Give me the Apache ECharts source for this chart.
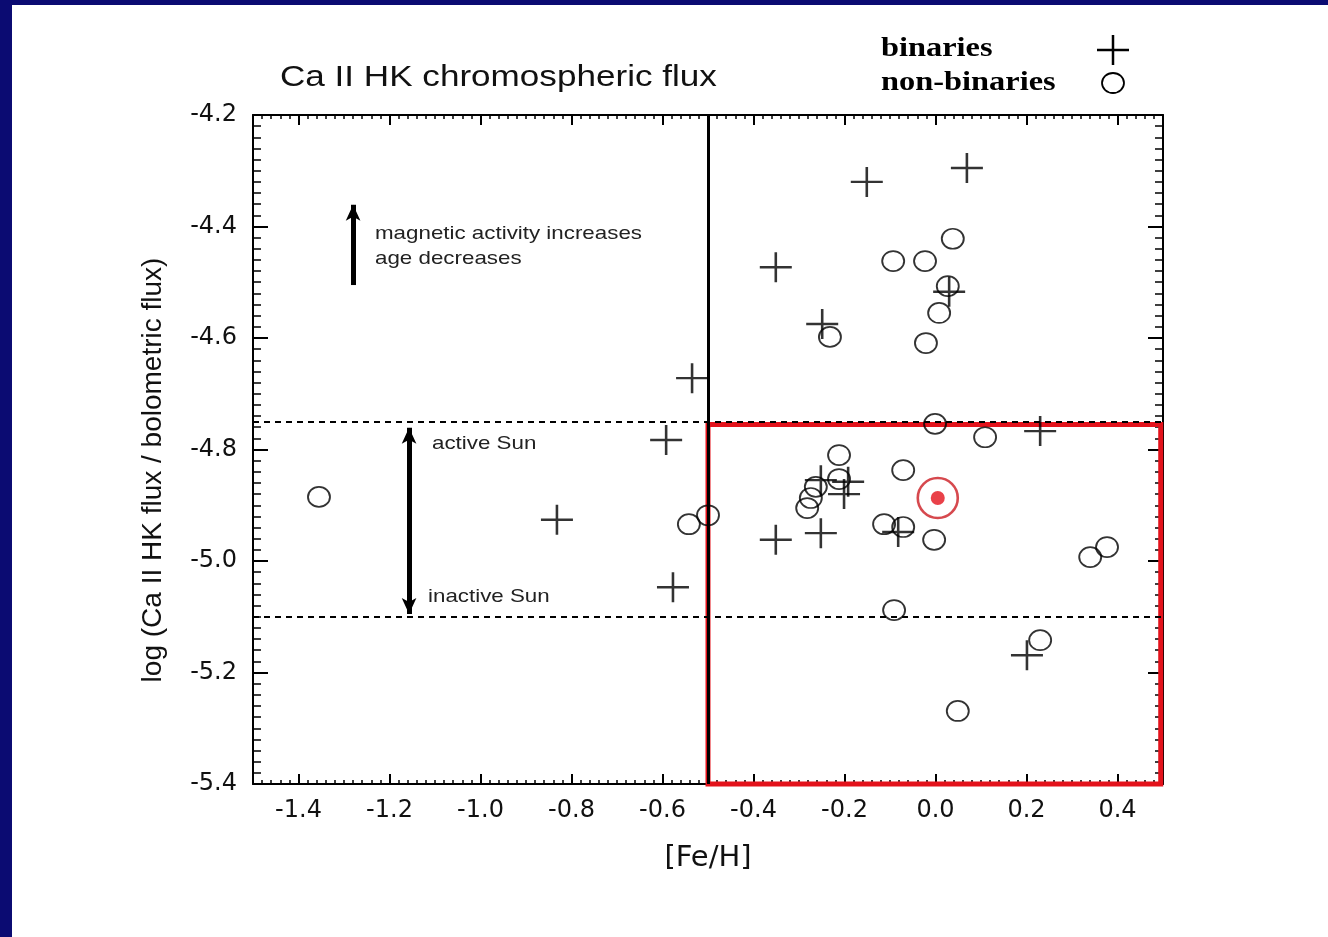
<!DOCTYPE html>
<html>
<head>
<meta charset="utf-8">
<title>Ca II HK chromospheric flux</title>
<script src="https://cdn.jsdelivr.net/npm/echarts@6/dist/echarts.min.js"></script>
<style>
  html, body { margin: 0; padding: 0; background: #0b0b72; }
  #chart { width: 1328px; height: 937px; }
</style>
</head>
<body>
<div id="chart"></div>
<script>
// [Fe/H], log(F_HK / F_bol)
const binaries = [
  [-0.151, -4.320], [0.069, -4.295], [-0.351, -4.473], [-0.249, -4.575],
  [0.030, -4.517], [-0.535, -4.672], [-0.592, -4.783], [0.230, -4.767],
  [-0.832, -4.926], [-0.577, -5.047], [-0.351, -4.962], [-0.252, -4.950],
  [0.201, -5.169], [-0.252, -4.855], [-0.192, -4.858], [-0.201, -4.880],
  [-0.082, -4.948]
];
const nonBinaries = [
  [-1.355, -4.885], [-0.542, -4.934], [-0.500, -4.918], [-0.091, -5.088],
  [0.230, -5.142], [0.049, -5.269], [0.340, -4.993], [0.377, -4.975],
  [0.109, -4.778], [-0.001, -4.754], [-0.071, -4.837], [-0.212, -4.810],
  [-0.212, -4.853], [-0.263, -4.867], [-0.274, -4.887], [-0.282, -4.905],
  [-0.113, -4.934], [-0.071, -4.939], [-0.003, -4.962], [0.038, -4.422],
  [-0.093, -4.462], [-0.023, -4.462], [0.027, -4.507], [0.008, -4.555],
  [-0.232, -4.598], [-0.021, -4.609]
];
const sunPoint = [[0.005, -4.887]];

// axes
const xRange = [-1.5, 0.5];
const yRange = [-5.4, -4.2];
const xTickValues = [-1.4, -1.2, -1.0, -0.8, -0.6, -0.4, -0.2, 0.0, 0.2, 0.4];
const yTickStep = 0.2;

// reference levels and annotations
const activeSunLevel = -4.75;
const inactiveSunLevel = -5.10;
const metallicityCut = -0.5;
const solarBox = [[-0.5, -4.755], [0.495, -5.4]];
const activityArrow = [[-1.28, -4.505], [-1.28, -4.361]];
const solarRangeArrow = [[-1.157, -4.761], [-1.157, -5.095]];

// minor x ticks every 0.02
const xMinorValues = [];
for (let i = 0; i <= 100; i++) {
  xMinorValues.push(Math.round((xRange[0] + i * 0.02) * 100) / 100);
}

const SANS = "'Liberation Sans', Arial, sans-serif";
const DEJAVU = "'DejaVu Sans', sans-serif";
const SERIF = "'Liberation Serif', 'Times New Roman', serif";

const plusPath = 'path://M16,0L16,30M0,15L32,15';
const ringPath = 'path://M0,10A11,10 0 1,1 22,10A11,10 0 1,1 0,10Z';

function xAxisDef(position, major, labels) {
  return {
    type: 'value', position: position, min: xRange[0], max: xRange[1],
    axisLine: { show: major, onZero: false, lineStyle: { color: '#000', width: 2 } },
    axisTick: {
      show: true, inside: true,
      customValues: major ? xTickValues : xMinorValues,
      length: major ? 10 : 4,
      lineStyle: { color: '#000', width: major ? 2 : 1.5 }
    },
    axisLabel: labels ? {
      show: true, customValues: xTickValues, margin: 15,
      fontFamily: DEJAVU, fontSize: 24, color: '#111',
      formatter: v => v.toFixed(1)
    } : { show: false },
    splitLine: { show: false },
    name: labels ? '[Fe/H]' : '',
    nameLocation: 'middle', nameGap: 60,
    nameTextStyle: { fontFamily: DEJAVU, fontSize: 29, color: '#111' }
  };
}

function yAxisDef(position, labels) {
  return {
    type: 'value', position: position, min: yRange[0], max: yRange[1], interval: yTickStep,
    axisLine: { show: true, onZero: false, lineStyle: { color: '#000', width: 2 } },
    axisTick: { show: true, inside: true, length: 15, lineStyle: { color: '#000', width: 2 } },
    minorTick: { show: true, splitNumber: 10, length: 8, lineStyle: { color: '#000', width: 1.5 } },
    minorSplitLine: { show: false },
    splitLine: { show: false },
    axisLabel: labels ? {
      show: true, margin: 16, fontFamily: DEJAVU, fontSize: 24, color: '#111',
      formatter: v => v.toFixed(1)
    } : { show: false },
    name: labels ? 'log (Ca II HK flux / bolometric flux)' : '',
    nameLocation: 'middle', nameGap: 86, nameRotate: 90,
    nameTextStyle: { fontFamily: SANS, fontSize: 28, color: '#111', padding: [0, 41, 0, 0] }
  };
}

const chart = echarts.init(document.getElementById('chart'), null, { renderer: 'canvas' });

chart.setOption({
  backgroundColor: '#0b0b72',
  animation: false,
  grid: { left: 253, right: 165, top: 115, bottom: 153, containLabel: false, outerBoundsMode: 'none' },
  xAxis: [
    xAxisDef('bottom', true, true),
    xAxisDef('bottom', false, false),
    xAxisDef('top', true, false),
    xAxisDef('top', false, false)
  ],
  yAxis: [
    yAxisDef('left', true),
    yAxisDef('right', false)
  ],
  graphic: [
    { type: 'rect', z: -100, silent: true,
      shape: { x: 12, y: 5, width: 1316, height: 932 }, style: { fill: '#fff' } },
    { type: 'text', x: 280, y: 78, scaleX: 1.21, silent: true,
      style: { text: 'Ca II HK chromospheric flux', font: '29px ' + SANS, fill: '#111',
               textAlign: 'left', textVerticalAlign: 'middle' } },
    { type: 'text', x: 881, y: 49, scaleX: 1.2, silent: true,
      style: { text: 'binaries', font: 'bold 27px ' + SERIF, fill: '#000',
               textAlign: 'left', textVerticalAlign: 'middle' } },
    { type: 'text', x: 881, y: 83, scaleX: 1.2, silent: true,
      style: { text: 'non-binaries', font: 'bold 27px ' + SERIF, fill: '#000',
               textAlign: 'left', textVerticalAlign: 'middle' } },
    { type: 'line', silent: true, shape: { x1: 1097, y1: 50, x2: 1129, y2: 50 },
      style: { stroke: '#000', lineWidth: 2.5 } },
    { type: 'line', silent: true, shape: { x1: 1113, y1: 35, x2: 1113, y2: 65 },
      style: { stroke: '#000', lineWidth: 2.5 } },
    { type: 'ellipse', silent: true, shape: { cx: 1113, cy: 83, rx: 11, ry: 10 },
      style: { stroke: '#000', lineWidth: 1.8, fill: 'none' } },
    { type: 'text', x: 375, y: 234, scaleX: 1.176, silent: true,
      style: { text: 'magnetic activity increases', font: '19px ' + SANS, fill: '#222',
               textAlign: 'left', textVerticalAlign: 'middle' } },
    { type: 'text', x: 375, y: 259, scaleX: 1.176, silent: true,
      style: { text: 'age decreases', font: '19px ' + SANS, fill: '#222',
               textAlign: 'left', textVerticalAlign: 'middle' } },
    { type: 'text', x: 432, y: 444, scaleX: 1.176, silent: true,
      style: { text: 'active Sun', font: '19px ' + SANS, fill: '#222',
               textAlign: 'left', textVerticalAlign: 'middle' } },
    { type: 'text', x: 428, y: 597, scaleX: 1.176, silent: true,
      style: { text: 'inactive Sun', font: '19px ' + SANS, fill: '#222',
               textAlign: 'left', textVerticalAlign: 'middle' } }
  ],
  series: [
    {
      // reference lines: solar activity levels, metallicity cut, arrows
      name: 'guides', type: 'scatter', data: [], silent: true, z: 1,
      markLine: {
        silent: true, animation: false,
        label: { show: false }, emphasis: { disabled: true },
        symbol: ['none', 'none'],
        data: [
          { yAxis: activeSunLevel, lineStyle: { color: '#000', width: 2, type: [6, 5] } },
          { yAxis: inactiveSunLevel, lineStyle: { color: '#000', width: 2, type: [6, 5] } },
          { xAxis: metallicityCut, lineStyle: { color: '#000', width: 3, type: 'solid' } },
          [
            { coord: activityArrow[0], symbol: 'none' },
            { coord: activityArrow[1], symbol: 'arrow', symbolSize: [11, 16],
              lineStyle: { color: '#000', width: 5, type: 'solid' } }
          ],
          [
            { coord: solarRangeArrow[0], symbol: 'arrow', symbolSize: [11, 16] },
            { coord: solarRangeArrow[1], symbol: 'arrow', symbolSize: [11, 16],
              lineStyle: { color: '#000', width: 5, type: 'solid' } }
          ]
        ]
      }
    },
    {
      name: 'solar-like box', type: 'scatter', data: [], silent: true, z: 2,
      markArea: {
        silent: true, label: { show: false }, emphasis: { disabled: true },
        itemStyle: { color: 'rgba(0,0,0,0)', borderColor: '#e3121b', borderWidth: 5 },
        data: [[{ coord: solarBox[0] }, { coord: solarBox[1] }]]
      }
    },
    {
      name: 'non-binaries', type: 'scatter', data: nonBinaries, z: 3, silent: true,
      symbol: ringPath, symbolSize: [22, 20],
      itemStyle: { color: 'rgba(0,0,0,0)', borderColor: '#000', borderWidth: 1.8 }
    },
    {
      name: 'binaries', type: 'scatter', data: binaries, z: 4, silent: true,
      symbol: plusPath, symbolSize: [32, 30],
      itemStyle: { color: 'rgba(0,0,0,0)', borderColor: '#000', borderWidth: 2.5 }
    },
    {
      name: 'Sun ring', type: 'scatter', data: sunPoint, z: 5, silent: true,
      symbol: 'circle', symbolSize: 40,
      itemStyle: { color: 'rgba(0,0,0,0)', borderColor: '#cc1c22', borderWidth: 2.6 }
    },
    {
      name: 'Sun', type: 'scatter', data: sunPoint, z: 6, silent: true,
      symbol: 'circle', symbolSize: 14,
      itemStyle: { color: '#e3121b' }
    }
  ]
});
</script>
</body>
</html>
